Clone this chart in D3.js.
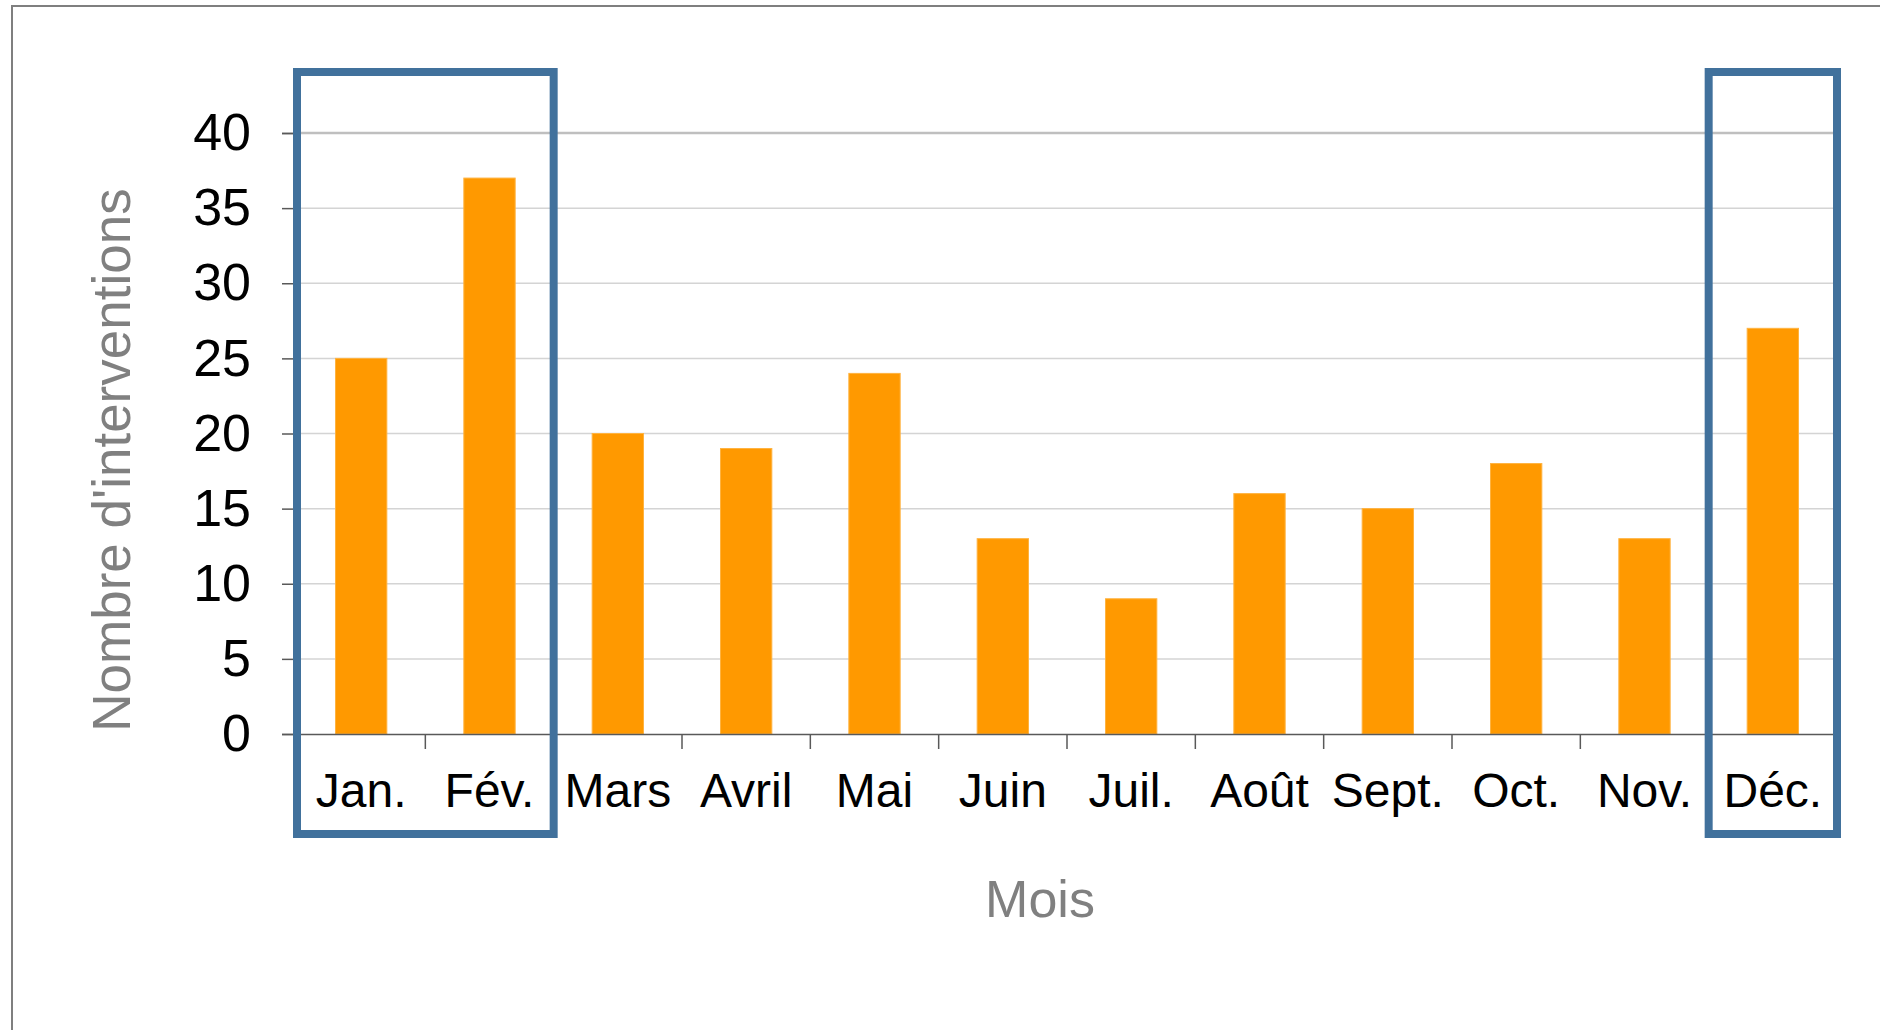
<!DOCTYPE html>
<html>
<head>
<meta charset="utf-8">
<script src="https://cdn.jsdelivr.net/npm/d3@7"></script>
<style>
  body { margin: 0; background: #fff; }
  #chart { width: 1880px; height: 1030px; }
  text { font-family: "Liberation Sans", Arial, sans-serif; }
</style>
</head>
<body>
<div id="chart"></div>
<script>
// data
const months = ["Jan.", "Fév.", "Mars", "Avril", "Mai", "Juin", "Juil.", "Août", "Sept.", "Oct.", "Nov.", "Déc."];
const interventions = [25, 37, 20, 19, 24, 13, 9, 16, 15, 18, 13, 27];
const yTicks = [0, 5, 10, 15, 20, 25, 30, 35, 40];
const highlighted = [["Jan.", "Fév."], ["Déc.", "Déc."]];

const W = 1880, H = 1030;
const plot = { left: 297, right: 1837, top: 133, bottom: 734 };

const svg = d3.select("#chart").append("svg")
    .attr("width", W)
    .attr("height", H);

svg.append("rect").attr("width", W).attr("height", H).attr("fill", "#fff");

// outer frame (only left and top edges show)
svg.append("rect")
    .attr("x", 12).attr("y", 6)
    .attr("width", W + 50).attr("height", H + 50)
    .attr("fill", "none")
    .attr("stroke", "#7f7f7f")
    .attr("stroke-width", 2);

// scales
const x = d3.scaleBand()
    .domain(months)
    .range([plot.left, plot.right])
    .paddingInner(0.6)
    .paddingOuter(0.3);
const step = x.step();
const bandStart = m => x(m) - x.bandwidth() * 0.75; // slot start (outer padding = half inner)

const y = d3.scaleLinear()
    .domain([0, 40])
    .range([plot.bottom, plot.top]);

// gridlines
svg.append("g")
  .selectAll("line")
  .data(yTicks.filter(d => d > 0))
  .join("line")
    .attr("x1", plot.left).attr("x2", plot.right)
    .attr("y1", d => y(d)).attr("y2", d => y(d))
    .attr("stroke", d => d === 40 ? "#bfbfbf" : "#d4d4d4")
    .attr("stroke-width", d => d === 40 ? 2.5 : 1.5);

// y axis
const yAxis = svg.append("g")
    .attr("transform", `translate(${plot.left},0)`)
    .call(d3.axisLeft(y).tickValues(yTicks).tickSize(15).tickPadding(31));
yAxis.select(".domain").attr("stroke", "#595959").attr("stroke-width", 1.5);
yAxis.selectAll(".tick line").attr("stroke", "#595959").attr("stroke-width", 1.5);
yAxis.selectAll(".tick text")
    .attr("font-size", 52)
    .attr("fill", "#000")
    .attr("font-family", "Liberation Sans, Arial, sans-serif");

// bars
svg.append("g")
  .selectAll("rect")
  .data(interventions)
  .join("rect")
    .attr("x", (d, i) => x(months[i]))
    .attr("y", d => y(d))
    .attr("width", x.bandwidth())
    .attr("height", d => y(0) - y(d))
    .attr("fill", "#ff9900")
    .attr("stroke", "#ffb340")
    .attr("stroke-width", 1);

// x axis baseline, separators, labels
svg.append("line")
    .attr("x1", plot.left).attr("x2", plot.right)
    .attr("y1", y(0) + 0.5).attr("y2", y(0) + 0.5)
    .attr("stroke", "#595959")
    .attr("stroke-width", 1.5);

svg.append("g")
  .selectAll("line")
  .data(d3.range(months.length + 1))
  .join("line")
    .attr("x1", i => plot.left + i * step).attr("x2", i => plot.left + i * step)
    .attr("y1", y(0)).attr("y2", y(0) + 15)
    .attr("stroke", "#595959")
    .attr("stroke-width", 1.5);

svg.append("g")
  .selectAll("text")
  .data(months)
  .join("text")
    .attr("x", m => x(m) + x.bandwidth() / 2)
    .attr("y", 807)
    .attr("text-anchor", "middle")
    .attr("font-size", 48)
    .attr("fill", "#000")
    .text(m => m);

// axis titles
svg.append("text")
    .attr("x", 1040).attr("y", 917)
    .attr("text-anchor", "middle")
    .attr("font-size", 52)
    .attr("fill", "#808080")
    .text("Mois");

svg.append("text")
    .attr("transform", "translate(130,460) rotate(-90)")
    .attr("text-anchor", "middle")
    .attr("font-size", 53)
    .attr("fill", "#808080")
    .text("Nombre d'interventions");

// highlight boxes
svg.append("g")
  .selectAll("rect")
  .data(highlighted)
  .join("rect")
    .attr("x", d => bandStart(d[0]))
    .attr("y", 72)
    .attr("width", d => bandStart(d[1]) + step - bandStart(d[0]))
    .attr("height", 834 - 72)
    .attr("fill", "none")
    .attr("stroke", "#41719c")
    .attr("stroke-width", 8);
</script>
</body>
</html>
